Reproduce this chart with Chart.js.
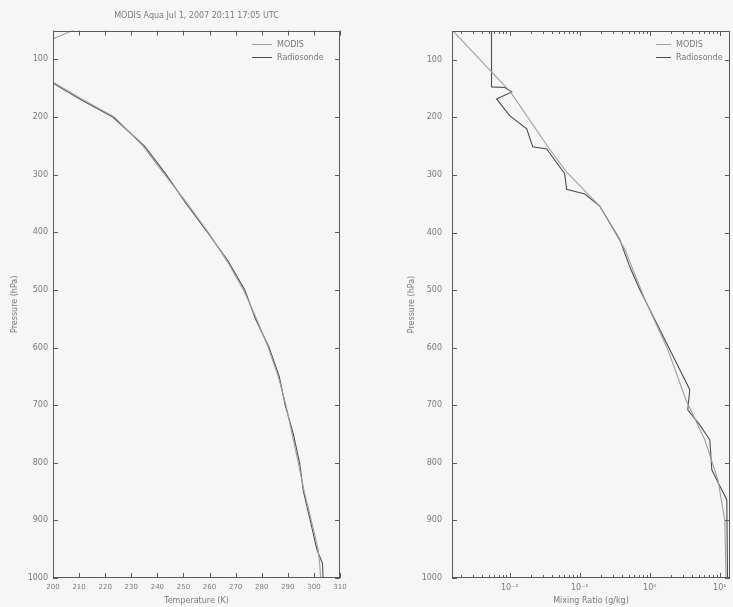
<!DOCTYPE html>
<html><head><meta charset="utf-8">
<script src="https://cdn.jsdelivr.net/npm/chart.js@4/dist/chart.umd.min.js"></script>
<style>
html,body{margin:0;padding:0;background:#f6f6f6;}
#wrap{position:relative;width:733px;height:607px;overflow:hidden;background:#f6f6f6;}
#c1{position:absolute;left:0;top:0;}
#c2{position:absolute;left:360px;top:0;}
</style></head><body>
<div id="wrap">
<canvas id="c1" width="360" height="607"></canvas>
<canvas id="c2" width="373" height="607"></canvas>
</div>
<script>
// ---- data ----
const chartTitle = 'MODIS Aqua Jul 1, 2007 20:11 17:05 UTC';
const seriesNames = ['MODIS', 'Radiosonde'];
const pressureTicks = [100, 200, 300, 400, 500, 600, 700, 800, 900, 1000];
const tempTicks = [200, 210, 220, 230, 240, 250, 260, 270, 280, 290, 300, 310];
const mixDecades = [-3, -2, -1, 0, 1];

const modisTempPressure = [48, 63, 70, 100, 125, 140, 170, 200, 250, 300, 350, 400, 450, 500, 550, 600, 650, 700, 750, 800, 850, 900, 950, 975, 1000];
const modisTemp = [208.4, 200.8, 198.5, 195.5, 197.5, 200.2, 211.5, 223.5, 234.5, 242.8, 251.5, 259.5, 266.7, 273, 278, 282.5, 286.3, 289.3, 291.6, 294, 296.3, 299, 301.6, 302.2, 302.6];
const sondeTempPressure = [48, 70, 100, 125, 140, 170, 200, 250, 300, 350, 400, 450, 500, 550, 600, 650, 700, 750, 800, 850, 900, 950, 975, 1000];
const sondeTemp = [195, 194.5, 193, 196.5, 199.6, 210.8, 222.9, 235, 243.4, 251, 259.2, 267.1, 273.5, 277.6, 282.8, 286.7, 289, 292.1, 294.5, 296, 298.6, 301.1, 303.3, 303.5];

const modisMixPressure = [48, 121, 154, 255, 295, 354, 429, 516, 603, 690, 760, 829, 899, 1000];
const modisMix = [0.0015, 0.0055, 0.0100, 0.037, 0.065, 0.193, 0.44, 0.85, 1.81, 3.27, 6.1, 9.4, 11.8, 12.3];
const sondeMixPressure = [48, 147, 148, 156, 168, 197, 220, 251, 255, 298, 325, 333, 354, 412, 460, 499, 551, 603, 673, 708, 734, 760, 812, 847, 864, 1000];
const sondeMix = [0.0055, 0.0055, 0.0085, 0.0107, 0.0065, 0.0100, 0.0175, 0.0213, 0.0338, 0.061, 0.065, 0.118, 0.193, 0.373, 0.52, 0.72, 1.18, 1.93, 3.73, 3.49, 5.18, 7.2, 7.7, 10.7, 12.6, 12.9];

// ---- styling ----
const FONT = 'DejaVu Sans';
const TEXT = '#7a7a7a';
const FRAME = '#5a5a5a';
const MODIS_COLOR = '#a0a0a0';
const SONDE_COLOR = '#4e4e4e';
const SUP = {'-':'⁻','0':'⁰','1':'¹','2':'²','3':'³','4':'⁴','5':'⁵','6':'⁶','7':'⁷','8':'⁸','9':'⁹'};
const supText = n => String(n).split('').map(c => SUP[c]).join('');

const pts = (xs, ps) => ps.map((p, i) => ({x: xs[i], y: p}));

const framePlugin = {
  id: 'frame',
  afterDatasetsDraw(chart) {
    const {ctx, chartArea: a, scales: {x, y}} = chart;
    ctx.save();
    ctx.strokeStyle = FRAME; ctx.lineWidth = 1;
    ctx.strokeRect(Math.round(a.left) + 0.5, Math.round(a.top) + 0.5, Math.round(a.right - a.left) - 1, Math.round(a.bottom - a.top) - 1);
    ctx.beginPath();
    x.ticks.forEach(t => {
      const px = Math.round(x.getPixelForValue(t.value)) + 0.5;
      const len = t.major ? 5 : 3;
      ctx.moveTo(px, a.bottom); ctx.lineTo(px, a.bottom - len);
      ctx.moveTo(px, a.top); ctx.lineTo(px, a.top + len);
    });
    y.ticks.forEach(t => {
      const py = Math.round(y.getPixelForValue(t.value)) + 0.5;
      ctx.moveTo(a.left, py); ctx.lineTo(a.left + 5, py);
      ctx.moveTo(a.right, py); ctx.lineTo(a.right - 5, py);
    });
    ctx.stroke();
    ctx.restore();
  }
};

const innerLegend = {
  id: 'innerLegend',
  afterDraw(chart, args, o) {
    const ctx = chart.ctx;
    ctx.save();
    ctx.font = '8px "' + FONT + '"';
    ctx.textBaseline = 'middle';
    chart.data.datasets.forEach((ds, i) => {
      const yy = o.y + i * o.dy + 0.5;
      ctx.strokeStyle = ds.borderColor; ctx.lineWidth = 1;
      ctx.beginPath(); ctx.moveTo(o.x, yy); ctx.lineTo(o.x + o.len, yy); ctx.stroke();
      ctx.fillStyle = TEXT;
      ctx.fillText(ds.label, o.x + o.len + 5, yy);
    });
    ctx.restore();
  }
};

function yAxis(width, pad) {
  return {
    type: 'linear', reverse: true, min: 50, max: 1000,
    grid: {display: false, drawTicks: false}, border: {display: false},
    afterBuildTicks: s => { s.ticks = pressureTicks.map(v => ({value: v, major: true})); },
    afterFit: s => { s.width = width; },
    ticks: {padding: pad, color: TEXT, font: {family: FONT, size: 8}, autoSkip: false, callback: v => String(v)},
    title: {display: true, text: 'Pressure (hPa)', color: TEXT, font: {family: FONT, size: 8}, padding: {top: 2, bottom: 0}}
  };
}

const common = {
  responsive: false, animation: false, devicePixelRatio: 1,
  elements: {point: {radius: 0}, line: {borderWidth: 1.1, tension: 0}},
};

new Chart(document.getElementById('c1'), {
  type: 'scatter',
  data: {datasets: [
    {label: seriesNames[0], data: pts(modisTemp, modisTempPressure), showLine: true, borderColor: MODIS_COLOR, backgroundColor: MODIS_COLOR},
    {label: seriesNames[1], data: pts(sondeTemp, sondeTempPressure), showLine: true, borderColor: SONDE_COLOR, backgroundColor: SONDE_COLOR}
  ]},
  options: Object.assign({}, common, {
    layout: {padding: {left: 8, right: 20, top: 2, bottom: 0}},
    plugins: {
      legend: {display: false}, tooltip: {enabled: false},
      title: {display: true, fullSize: false, text: chartTitle, color: TEXT, font: {family: FONT, size: 8, weight: 'normal'}, padding: {top: 9, bottom: 10}},
      innerLegend: {x: 252, y: 44, dy: 13, len: 20}
    },
    scales: {
      x: {
        type: 'linear', min: 200, max: 310,
        grid: {display: false, drawTicks: false}, border: {display: false},
        afterBuildTicks: s => { s.ticks = tempTicks.map(v => ({value: v, major: true})); },
        afterFit: s => { s.height = 29; },
        ticks: {padding: 5, color: TEXT, font: {family: FONT, size: 7}, autoSkip: false, maxRotation: 0, callback: v => String(v)},
        title: {display: true, text: 'Temperature (K)', color: TEXT, font: {family: FONT, size: 8}, padding: {top: 0, bottom: 1}}
      },
      y: yAxis(45, 5)
    }
  }),
  plugins: [framePlugin, innerLegend]
});

new Chart(document.getElementById('c2'), {
  type: 'scatter',
  data: {datasets: [
    {label: seriesNames[0], data: pts(modisMix, modisMixPressure), showLine: true, borderColor: MODIS_COLOR, backgroundColor: MODIS_COLOR},
    {label: seriesNames[1], data: pts(sondeMix, sondeMixPressure), showLine: true, borderColor: SONDE_COLOR, backgroundColor: SONDE_COLOR}
  ]},
  options: Object.assign({}, common, {
    layout: {padding: {left: 45, right: 3, top: 31, bottom: 0}},
    plugins: {
      legend: {display: false}, tooltip: {enabled: false},
      innerLegend: {x: 296, y: 44, dy: 13, len: 15}
    },
    scales: {
      x: {
        type: 'logarithmic', min: 0.0015, max: 14,
        grid: {display: false, drawTicks: false}, border: {display: false},
        afterBuildTicks: s => {
          const out = [];
          mixDecades.forEach(e => {
            for (let k = 1; k <= 9; k++) {
              const v = k * Math.pow(10, e);
              if (v >= s.min && v <= s.max) out.push({value: v, major: k === 1, exp: e});
            }
          });
          s.ticks = out;
        },
        afterFit: s => { s.height = 29; },
        ticks: {
          padding: 5, color: TEXT, font: {family: FONT, size: 8}, autoSkip: false, maxRotation: 0,
          callback: function (v, i, ticks) {
            const t = ticks[i];
            return t.major ? '10' + supText(t.exp) : '';
          }
        },
        title: {display: true, text: 'Mixing Ratio (g/kg)', color: TEXT, font: {family: FONT, size: 8}, padding: {top: 0, bottom: 1}}
      },
      y: yAxis(47, 10)
    }
  }),
  plugins: [framePlugin, innerLegend]
});
</script>
</body></html>
